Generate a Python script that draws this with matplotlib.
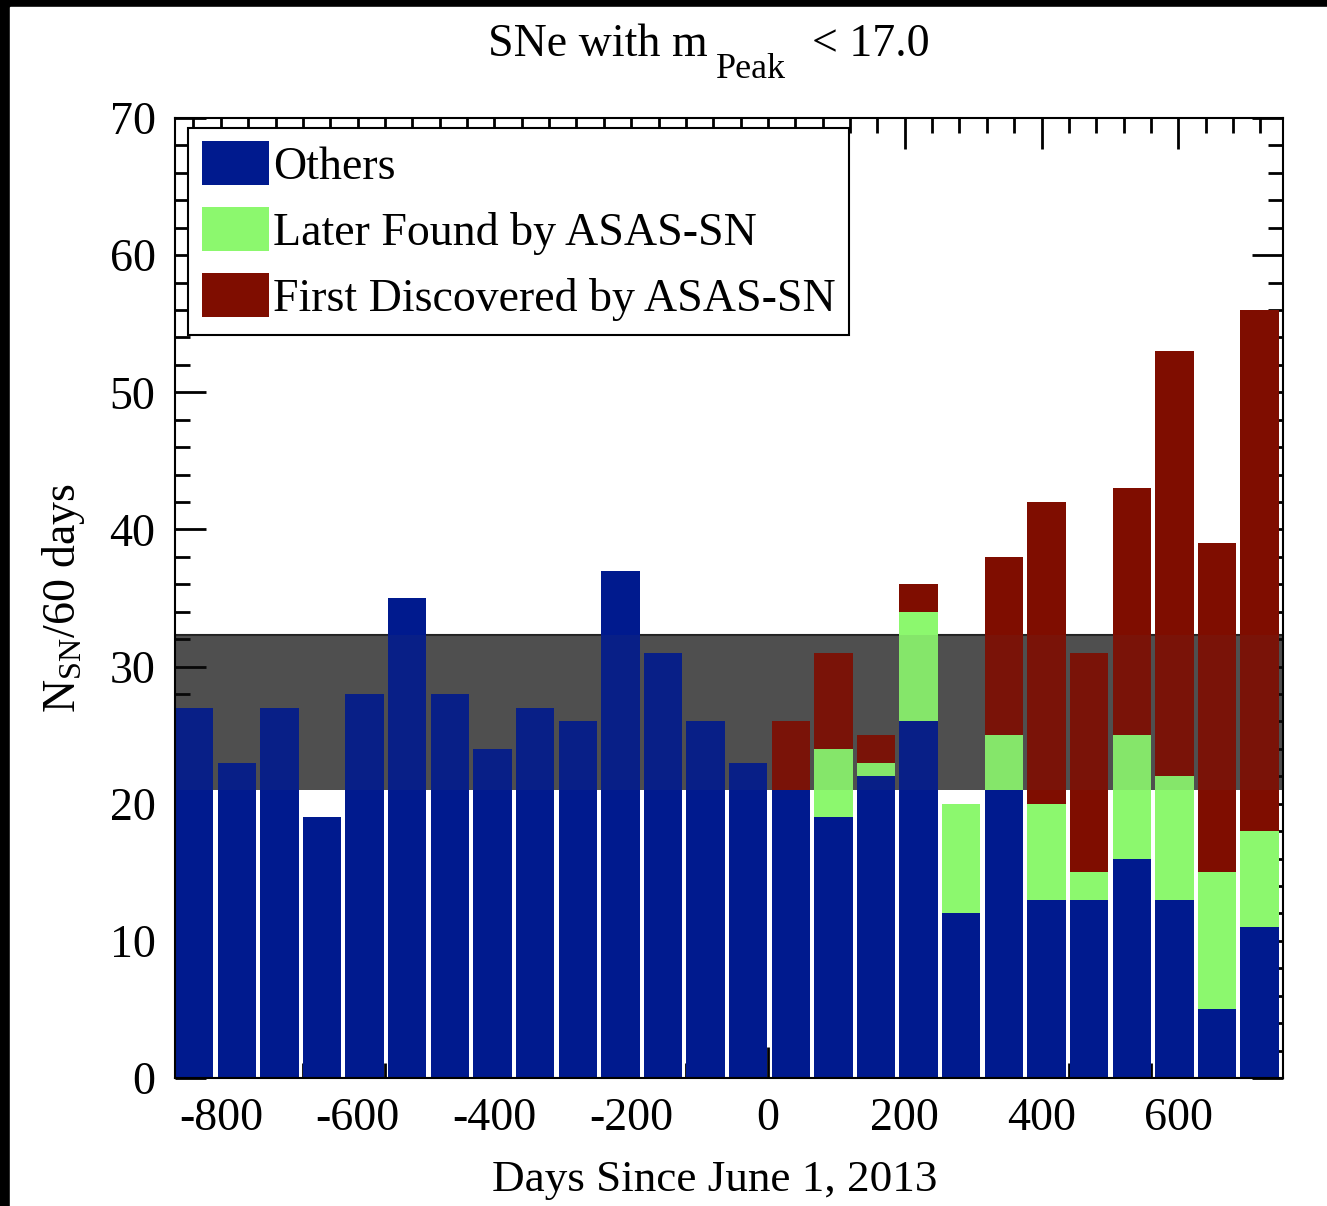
import matplotlib
matplotlib.use('Agg')
import matplotlib.pyplot as plt
import numpy as np
from matplotlib.patches import Rectangle

# counts per bin (cumulative tops)
others = [27, 23, 27, 19, 28, 35, 28, 24, 27, 26, 37, 31, 26, 23,
          21, 19, 22, 26, 12, 21, 13, 13, 16, 13, 5, 11]
later = [0, 0, 0, 0, 0, 0, 0, 0, 0, 0, 0, 0, 0, 0,
         0, 5, 1, 8, 8, 4, 7, 2, 9, 9, 10, 7]
first = [0, 0, 0, 0, 0, 0, 0, 0, 0, 0, 0, 0, 0, 0,
         5, 7, 2, 2, 0, 13, 22, 16, 18, 31, 24, 38]
band = (21.0, 32.3)

x_start, x_end = -867, 753
x_ticks = [-800, -600, -400, -200, 0, 200, 400, 600]

plt.rcParams['font.family'] = ['Liberation Serif', 'DejaVu Serif']
plt.rcParams['mathtext.fontset'] = 'custom'
plt.rcParams['mathtext.rm'] = 'Liberation Serif'
plt.rcParams['mathtext.it'] = 'Liberation Serif'
plt.rcParams['axes.unicode_minus'] = False

BLUE = '#001a8e'
GREEN = '#8cf86e'
RED = '#7f0d00'

fig = plt.figure(figsize=(13.27, 12.06), dpi=100, facecolor='black')
fig.patches.append(Rectangle((10 / 1327, 0), 1, 1 - 7 / 1206,
                             transform=fig.transFigure, color='white', zorder=-10))
ax = fig.add_axes([175 / 1327, 1 - 1078 / 1206, (1283 - 175) / 1327, (1078 - 118) / 1206])

n = len(others)
width = (x_end - x_start) / n
lefts = x_start + width * np.arange(n)
others = np.array(others)
later = np.array(later)
first = np.array(first)

ax.axhspan(band[0], band[1], color='#4f4f4f', zorder=1, lw=0)
ax.axhline(band[1], color='#222222', lw=1.5, zorder=1)

bw = width * 0.9
ax.bar(lefts, others, width=bw, align='edge', color=BLUE, zorder=2, label='Others')
ax.bar(lefts, later, bottom=others, width=bw, align='edge', color=GREEN, zorder=2,
       label='Later Found by ASAS-SN')
ax.bar(lefts, first, bottom=others + later, width=bw, align='edge', color=RED, zorder=2,
       label='First Discovered by ASAS-SN')
ax.axhspan(band[0], band[1], color='#4f4f4f', alpha=0.1, zorder=3, lw=0)

ax.set_xlim(x_start, x_end)
ax.set_ylim(0, 70)
ax.set_xticks(x_ticks)
ax.set_xticks(np.arange(-840, 760, 40), minor=True)
ax.set_yticks(np.arange(0, 71, 10))
ax.set_yticks(np.arange(0, 71, 2), minor=True)
ax.tick_params(which='both', direction='in', top=True, right=True, width=2, labelsize=33, pad=14)
ax.tick_params(which='major', length=22)
ax.tick_params(which='minor', length=11)
for s in ax.spines.values():
    s.set_linewidth(1.5)
    s.set_zorder(5)

ax.set_xlabel('Days Since June 1, 2013', fontsize=32.5, labelpad=18)
ax.xaxis.set_label_coords(0.487, -0.085)
ax.set_ylabel(r'N$_{\rm SN}$/60 days', fontsize=33, labelpad=16)

# title with a low subscript, as in the original
fig.text(708 / 1327, 1 - 56 / 1206, 'SNe with m', fontsize=33, ha='right', va='baseline')
fig.text(716 / 1327, 1 - 78 / 1206, 'Peak', fontsize=26, ha='left', va='baseline')
fig.text(812 / 1327, 1 - 56 / 1206, '< 17.0', fontsize=33, ha='left', va='baseline')

leg = ax.legend(loc='upper left', fontsize=33, frameon=True, fancybox=False,
                edgecolor='black', framealpha=1, handlelength=1.45, handleheight=1.1,
                handletextpad=0.1, labelspacing=0.4, borderpad=0.3, borderaxespad=0,
                bbox_to_anchor=(0.012, 0.99))
leg.get_frame().set_linewidth(1.5)
leg.set_zorder(6)

fig.savefig('out.png', dpi=100, facecolor=fig.get_facecolor())
